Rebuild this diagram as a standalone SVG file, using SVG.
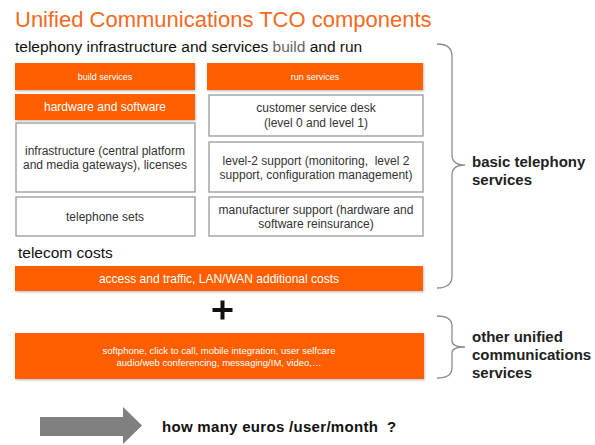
<svg xmlns="http://www.w3.org/2000/svg" width="595" height="445" viewBox="0 0 595 445">
<defs>
<style>
.t{font-family:"Liberation Sans",Arial,sans-serif}
.ob{fill:#ff5f00}
.wb{fill:#ffffff;stroke:#a0a0a0;stroke-width:1.4}
.wt{fill:#ffffff;text-anchor:middle}
.dt{fill:#333333;text-anchor:middle;font-size:12px}
.br{fill:none;stroke:#8c8c8c;stroke-width:1.3}
.bl{fill:#222222;font-weight:bold;font-size:15px}
</style>
<filter id="sh" x="-5%" y="-10%" width="110%" height="130%">
<feDropShadow dx="0.8" dy="1.2" stdDeviation="0.8" flood-color="#000" flood-opacity="0.25"/>
</filter>
</defs>
<rect width="595" height="445" fill="#ffffff"/>
<text class="t" x="15" y="27" font-size="22" fill="#f36a21">Unified Communications TCO components</text>
<text class="t" x="15" y="52" font-size="15.5" fill="#111111">telephony infrastructure and services <tspan fill="#666666">build</tspan> and run</text>

<g id="build-services">
<rect class="ob" x="15" y="63" width="180" height="27" filter="url(#sh)"/>
<text class="t wt" x="105" y="80" font-size="9">build services</text>
</g>
<g id="run-services">
<rect class="ob" x="207" y="63" width="216" height="27" filter="url(#sh)"/>
<text class="t wt" x="315" y="80" font-size="9">run services</text>
</g>
<g id="hardware-software">
<rect class="ob" x="15" y="94" width="180" height="26" filter="url(#sh)"/>
<text class="t wt" x="105" y="111" font-size="12">hardware and software</text>
</g>
<g id="customer-service-desk">
<rect class="wb" x="209" y="95" width="214" height="41"/>
<text class="t dt" x="316" y="112">customer service desk</text>
<text class="t dt" x="316" y="127">(level 0 and level 1)</text>
</g>
<g id="infrastructure">
<rect class="wb" x="16" y="123" width="179" height="69"/>
<text class="t dt" x="105" y="155">infrastructure (central platform</text>
<text class="t dt" x="105" y="169">and media gateways), licenses</text>
</g>
<g id="level2-support">
<rect class="wb" x="209" y="142" width="214" height="50"/>
<text class="t dt" x="316" y="165">level-2 support (monitoring,&#160; level 2</text>
<text class="t dt" x="316" y="179">support, configuration management)</text>
</g>
<g id="telephone-sets">
<rect class="wb" x="16" y="197" width="179" height="39"/>
<text class="t dt" x="105" y="221">telephone sets</text>
</g>
<g id="manufacturer-support">
<rect class="wb" x="209" y="197" width="214" height="39"/>
<text class="t dt" x="316" y="214">manufacturer support (hardware and</text>
<text class="t dt" x="316" y="228">software reinsurance)</text>
</g>

<text class="t" x="18" y="258" font-size="15.5" fill="#111111">telecom costs</text>
<g id="telecom-costs">
<rect class="ob" x="15" y="266" width="408" height="25" filter="url(#sh)"/>
<text class="t wt" x="219" y="283" font-size="12">access and traffic, LAN/WAN additional costs</text>
</g>

<g id="plus">
<rect x="212.5" y="308" width="20" height="4" fill="#111111"/>
<rect x="220.5" y="300.5" width="4" height="19" fill="#111111"/>
</g>

<g id="other-uc">
<rect class="ob" x="15" y="333" width="409" height="46" filter="url(#sh)"/>
<text class="t wt" x="219" y="354" font-size="9.5">softphone, click to call, mobile integration, user selfcare</text>
<text class="t wt" x="219" y="365.5" font-size="9.5">audio/web conferencing, messaging/IM, video,…</text>
</g>

<g id="connectors">
<path class="br" d="M437,44 Q452,44 452,56 L452,155 Q452,165 465,165 Q452,165 452,175 L452,276 Q452,288 437,288"/>
<path class="br" d="M437,316 Q452,316 452,326 L452,341 Q452,347 465,347 Q452,347 452,353 L452,368 Q452,378 437,378"/>
</g>

<g id="basic-telephony-label">
<text class="t bl" x="472" y="167">basic telephony</text>
<text class="t bl" x="472" y="185">services</text>
</g>
<g id="other-uc-label">
<text class="t bl" x="472" y="342">other unified</text>
<text class="t bl" x="472" y="360">communications</text>
<text class="t bl" x="472" y="378">services</text>
</g>

<g id="arrow">
<polygon points="40,417 123,417 123,407 142,425.5 123,444 123,436 40,436" fill="#808080"/>
</g>
<text class="t" x="162" y="432" font-size="15" font-weight="bold" fill="#111111" letter-spacing="0.3">how many euros /user/month&#160; ?</text>
</svg>
